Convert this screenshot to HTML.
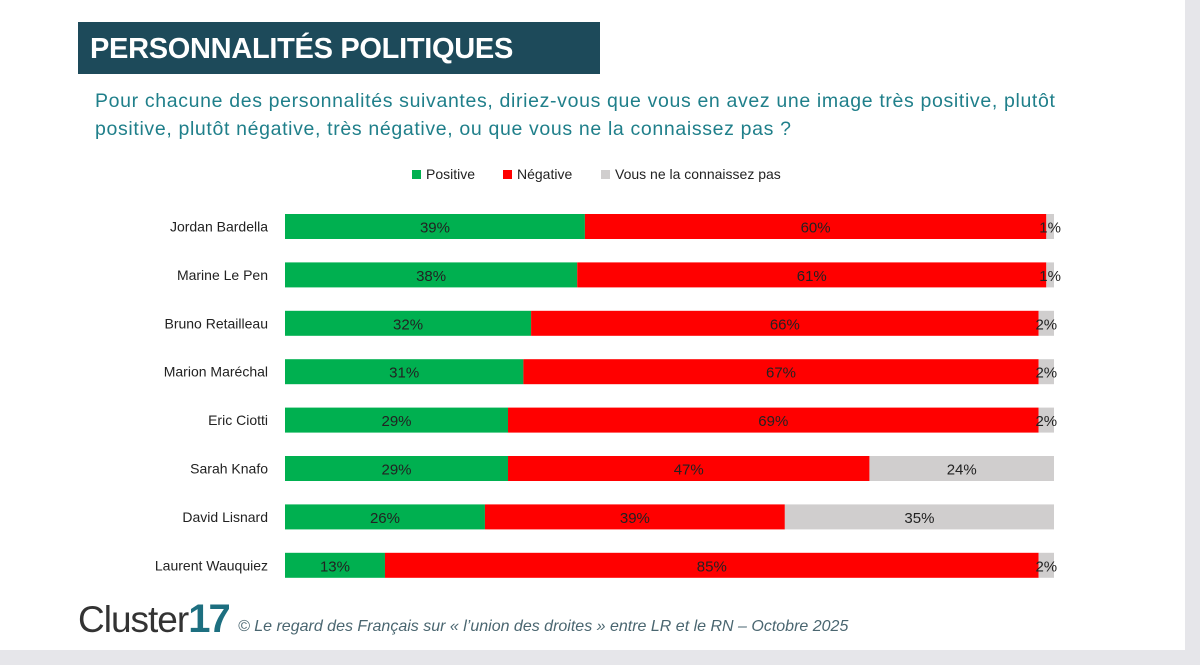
<!DOCTYPE html>
<html><head><meta charset="utf-8"><style>
body{margin:0;width:1200px;height:665px;background:#e6e6ea;font-family:"Liberation Sans",sans-serif;overflow:hidden;position:relative}
#card{position:absolute;left:0;top:0;width:1185px;height:650px;background:#fff}
#title{position:absolute;left:78px;top:22px;width:522px;height:52px;background:#1d4a5a;color:#fff;font-weight:bold;font-size:29px;line-height:54px;padding-left:12px;box-sizing:border-box;letter-spacing:-0.3px}
#sub{position:absolute;left:95px;top:87px;width:1050px;font-size:19.5px;letter-spacing:0.65px;line-height:28px;color:#1f7f8a;white-space:nowrap}
.lg{position:absolute;top:166px;font-size:14px;color:#222}
.lg i{display:inline-block;width:9px;height:9px;margin-right:5px}
#foot{position:absolute;left:238px;top:618px;font-size:16px;font-style:italic;color:#4a6670}
#logo{position:absolute;left:78px;top:597px;font-size:37px;color:#333;letter-spacing:-1px}
#logo b{color:#1d6f80;font-size:40px;letter-spacing:-2px}
</style></head><body>
<div id="card">
<div id="title">PERSONNALITÉS POLITIQUES</div>
<div id="sub">Pour chacune des personnalités suivantes, diriez-vous que vous en avez une image très positive, plutôt<br>positive, plutôt négative, très négative, ou que vous ne la connaissez pas ?</div>
<div class="lg" style="left:412px"><i style="background:#00b050"></i>Positive</div>
<div class="lg" style="left:503px"><i style="background:#ff0000"></i>Négative</div>
<div class="lg" style="left:601px"><i style="background:#d0cece"></i>Vous ne la connaissez pas</div>
<svg id="chart" width="1200" height="600" style="position:absolute;left:0;top:0"></svg>
<div id="logo">Cluster<b>17</b></div>
<div id="foot">© Le regard des Français sur « l’union des droites » entre LR et le RN – Octobre 2025</div>
</div>
<script>
const names=["Jordan Bardella","Marine Le Pen","Bruno Retailleau","Marion Maréchal","Eric Ciotti","Sarah Knafo","David Lisnard","Laurent Wauquiez"];
const positive=[39,38,32,31,29,29,26,13];
const negative=[60,61,66,67,69,47,39,85];
const unknown=[1,1,2,2,2,24,35,2];
const svg=document.getElementById('chart');
const NS='http://www.w3.org/2000/svg';
const x0=285,scale=7.69,y0=214,step=48.4,bh=25;
const xs=v=>x0+v*scale;
function mk(t,a){const e=document.createElementNS(NS,t);for(const k in a)e.setAttribute(k,a[k]);svg.appendChild(e);return e;}
const cols=["#00b050","#ff0000","#d0cece"];
names.forEach((n,i)=>{
  const y=y0+i*step;
  const lab=mk('text',{x:268,y:y+bh/2+5,'text-anchor':'end','font-size':14,fill:'#222','font-family':'Liberation Sans, sans-serif'});
  lab.textContent=n;
  
  
  const vals=[positive[i],negative[i],unknown[i]];
  let acc=0;
  vals.forEach((v,j)=>{
    const r=mk('rect',{x:xs(acc),y:y,width:v*scale,height:bh,fill:cols[j]});
    
    
    const t=mk('text',{x:xs(acc+v/2),y:y+bh/2+6,'text-anchor':'middle','font-size':15,fill:'#222','font-family':'Liberation Sans, sans-serif'});
    t.textContent=v+'%';
    
    
    acc+=v;
  });
});
</script>
</body></html>
